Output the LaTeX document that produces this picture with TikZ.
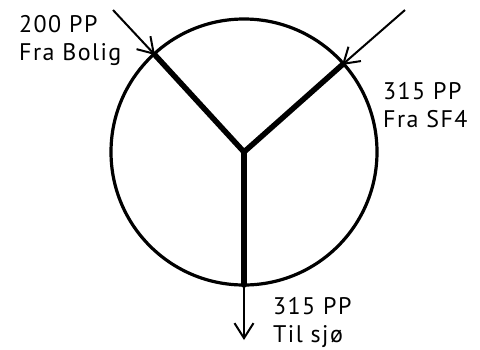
\documentclass[tikz,border=0pt]{standalone}
\usepackage{fontspec}
\setmainfont{PT Sans}[LetterSpace=6]
\usetikzlibrary{arrows.meta}
\tikzset{
  % Kum og rør
  kumline/.style  = {line width=3.2pt, draw=black},
  ror/.style      = {line width=5.5pt, draw=black, line cap=round},
  % Innløp / utløp
  flowarrow/.style= {-{Straight Barb[length=15pt,width=19pt,line width=2pt]}, line width=2pt},
  % Etiketter
  lab/.style      = {font=\fontsize{24}{28}\selectfont, inner sep=0pt, anchor=base west, align=left},
}

\begin{document}
\begin{tikzpicture}[x=1pt,y=-1pt]
  \useasboundingbox (0,0) rectangle (480,349);
  % Kummen
  \coordinate (O) at (244,152);
  \coordinate (inA) at (155,55);   % fra bolig
  \coordinate (inB) at (342,65);   % fra SF4
  \coordinate (ut) at (244,285);   % til sjø
  \coordinate (startA) at (113,10);
  \coordinate (startB) at (405,10);
  \coordinate (endut) at (244,340);
  \draw[kumline] (O) circle (133);
  % Rør inne i kummen
  \draw[ror] (inA) -- (O) -- (inB);
  \draw[ror] (O) -- (ut);
  % Piler
  \draw[flowarrow] (startA) -- (inA);
  \draw[flowarrow] (startB) -- (inB);
  \draw[flowarrow] (ut) -- (endut);
  % Etiketter (base = siste linje)
  \node[lab] (labA) at (19,60) {200 PP\\Fra Bolig};
  \node[lab] (labB) at (383,127) {315 PP\\Fra SF4};
  \node[lab] (labC) at (273,342) {315 PP\\Til sjø};
\end{tikzpicture}
\end{document}
